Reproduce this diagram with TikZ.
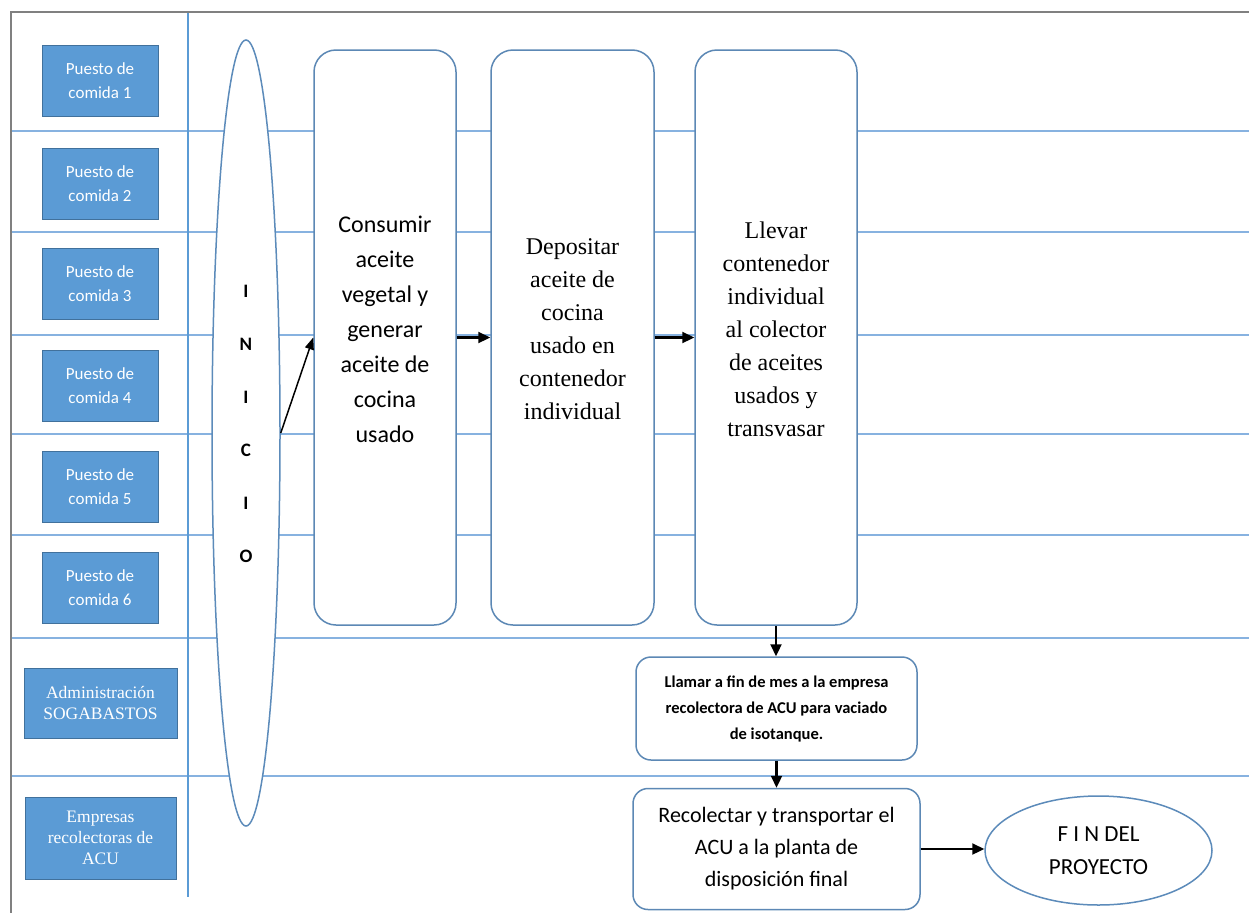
\documentclass[tikz,border=0pt]{standalone}
\usepackage{fontspec}
\setmainfont{Carlito}
\newfontfamily\serifrm{Liberation Serif}
\usetikzlibrary{arrows.meta,shapes.geometric}

\definecolor{laneFill}{RGB}{91,155,213}
\definecolor{laneEdge}{RGB}{65,113,156}
\definecolor{laneRule}{RGB}{135,178,224}
\definecolor{stepEdge}{RGB}{92,136,181}
\definecolor{frameGray}{RGB}{128,128,128}

\begin{document}
\begin{tikzpicture}[
  x=1pt,y=-1pt,
  frame/.style={frameGray, line width=1.5pt},
  lanerule/.style={laneRule, line width=1.6pt},
  lanebox/.style={rectangle, fill=laneFill, draw=laneEdge, line width=0.9pt,
    text=white, align=center, inner sep=0pt},
  stepbox/.style={rectangle, rounded corners=22pt, draw=stepEdge, fill=white,
    line width=1.5pt, align=center, inner sep=0pt, minimum height=575pt},
  callbox/.style={rectangle, rounded corners=15pt, draw=stepEdge, fill=white,
    line width=1.5pt, align=center, inner sep=0pt},
  oval/.style={ellipse, draw=stepEdge!85!laneFill, fill=white, line width=1.5pt,
    inner sep=0pt, align=center},
  flow/.style={black, line width=2.2pt, -{Triangle[length=12pt,width=11pt]}},
  thinflow/.style={black, line width=1.5pt, -{Triangle[length=12pt,width=9pt]}}
]
\useasboundingbox (0,0) rectangle (1249,913);
\fill[white] (0,0) rectangle (1249,913);

% ----------------------------- lanes -----------------------------
\foreach \y in {131,232,335,434,535,638,776}
  \draw[lanerule] (11,\y) -- (1249,\y);
\draw[laneFill, line width=1.5pt] (188,12) -- (188,897);
\draw[frame] (1249,12) -- (11,12) -- (11,913);

% Actors of each lane.
\foreach \n/\y in {1/80.5, 2/184, 3/283.5, 4/386, 5/487, 6/588}
  \node[lanebox, minimum width=116pt, minimum height=71pt,
    font=\fontsize{17}{24}\selectfont] (puesto\n) at (100,\y) {Puesto de\\comida \n};
\node[lanebox, minimum width=153pt, minimum height=70pt,
  font=\serifrm\fontsize{17.5}{21}\selectfont] (admin) at (100.5,703)
  {Administración\\SOGABASTOS};
\node[lanebox, minimum width=151pt, minimum height=82pt,
  font=\serifrm\fontsize{17.5}{21}\selectfont] (empresas) at (100.5,838)
  {Empresas\\recolectoras de\\ACU};

% ----------------------------- process -----------------------------
\node[oval, minimum width=68pt, minimum height=786pt] (inicio) at (246,433) {};
\node[font=\bfseries\fontsize{19}{53}\selectfont, align=center, inner sep=0pt]
  (inicioTxt) at (246,424) {I\\N\\I\\C\\I\\O};

\node[stepbox, minimum width=142pt, font=\fontsize{24}{35}\selectfont]
  (consumir) at (385,337.5)
  {Consumir\\aceite\\vegetal y\\generar\\aceite de\\cocina\\usado\\[-18pt]};
\node[stepbox, minimum width=163pt, font=\serifrm\fontsize{24}{33}\selectfont]
  (depositar) at (572.5,337.5)
  {Depositar\\aceite de\\cocina\\usado en\\contenedor\\individual\\[-16pt]};
\node[stepbox, minimum width=162pt, font=\serifrm\fontsize{24}{33}\selectfont]
  (llevar) at (776,337.5)
  {Llevar\\contenedor\\individual\\al colector\\de aceites\\usados y\\transvasar\\[-16pt]};

\node[callbox, minimum width=281pt, minimum height=103pt,
  font=\bfseries\fontsize{16.5}{26}\selectfont] (llamar) at (776.5,708.5)
  {Llamar a fin de mes a la empresa\\recolectora de ACU para vaciado\\de isotanque.};
\node[callbox, minimum width=287pt, minimum height=121pt,
  font=\fontsize{22}{32}\selectfont] (recolectar) at (776.5,849)
  {Recolectar y transportar el\\ACU a la planta de\\disposición final};
\node[oval, minimum width=227pt, minimum height=109pt,
  font=\fontsize{23}{33}\selectfont] (fin) at (1098.5,850.5)
  {F I N DEL\\PROYECTO};

% Connectors.
\draw[thinflow] (inicio.east) -- (consumir.west);
\draw[flow] (consumir.east) -- (depositar.west);
\draw[flow] (depositar.east) -- (llevar.west);
\draw[flow] (llevar.south) -- (llevar.south |- llamar.north);
\draw[flow] (llamar.south) -- (llamar.south |- recolectar.north);
\draw[flow] (recolectar.east) -- (recolectar.east -| fin.west);

\end{tikzpicture}
\end{document}
